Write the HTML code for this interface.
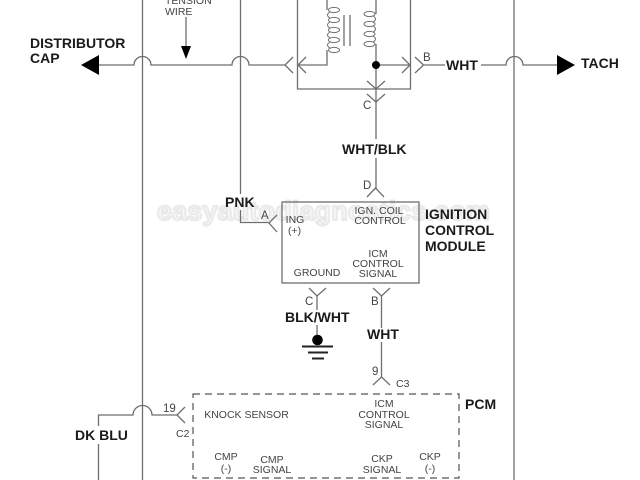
<!DOCTYPE html>
<html><head><meta charset="utf-8"><style>
html,body{margin:0;padding:0;background:#fff}
svg{display:block;filter:blur(.35px)}
text{font-family:"Liberation Sans",sans-serif}
.b{font-weight:bold;font-size:14px;fill:#1a1a1a}
.s{font-size:10.5px;fill:#444}
.l{font-size:11.5px;fill:#444}
.w{fill:none;stroke:#6e6e6e;stroke-width:1.3}
.d{fill:none;stroke:#555;stroke-width:1.2}
</style></head><body>
<svg width="640" height="480" viewBox="0 0 640 480" xmlns="http://www.w3.org/2000/svg">
<rect width="640" height="480" fill="#fff"/>
<text x="157" y="220" font-size="27" font-weight="bold" textLength="333" lengthAdjust="spacingAndGlyphs" fill="#f7f7f7" stroke="#e2e2e2" stroke-width="1.4" style="filter:blur(.6px)">easyautodiagnostics.com</text>
<g class="w">
<path d="M142.5 0V480M514 0V480"/>
<path d="M240.5 0V194M240.5 210V222.5H269"/>
<path d="M297.5 0V89H410.5V0"/>
<path d="M99 65H134A8.5 8.5 0 0 1 151 65H232A8.5 8.5 0 0 1 249 65H285"/>
<path d="M297 65H327V50M327 0V10"/>
<path d="M376 0V14M376 44V102M376 65H410"/>
<path d="M424 65H445M481 65H506A8.5 8.5 0 0 1 523 65H557"/>
<path d="M376 102V139M376 158V188"/>
<path d="M317 296V310M317 325V336"/>
<path d="M381.5 296V328M381.5 342V377"/>
<path d="M98.5 480V444M98.5 426V415H133A9 9 0 0 1 152 415H177"/>
<path d="M186 17V47"/>
<path d="M293 57L285 65L293 73M306 57L298 65L306 73"/>
<path d="M402 57L410 65L402 73M415 57L423.5 65L415 73"/>
<path d="M367 81L376 89L385 81M367 94L376 102L385 94"/>
<path d="M367 197L375.5 188L384 197"/>
<path d="M277 215L269 223L277 232"/>
<path d="M309 288L317 296L326 288M373 288L381.5 296L390 288"/>
<path d="M373 385L381.5 377L390 385"/>
<path d="M185 407L177 415L185 423"/>
<rect x="282" y="202" width="137" height="81"/>
<g stroke-width="1">
<ellipse cx="334" cy="10" rx="5.5" ry="2.6"/><ellipse cx="334" cy="20" rx="5.5" ry="2.6"/><ellipse cx="334" cy="30" rx="5.5" ry="2.6"/><ellipse cx="334" cy="40" rx="5.5" ry="2.6"/><ellipse cx="334" cy="50" rx="5.5" ry="2.6"/>
<path d="M330 12Q325 15 330 18M330 22Q325 25 330 28M330 32Q325 35 330 38M330 42Q325 45 330 48"/>
<ellipse cx="369.5" cy="14" rx="5.5" ry="2.6"/><ellipse cx="369.5" cy="24" rx="5.5" ry="2.6"/><ellipse cx="369.5" cy="34" rx="5.5" ry="2.6"/><ellipse cx="369.5" cy="44" rx="5.5" ry="2.6"/>
<path d="M373 16Q378 19 373 22M373 26Q378 29 373 32M373 36Q378 39 373 42"/>
</g>
<path d="M344 15V46M350 15V46"/>
</g>
<path class="d" stroke-dasharray="7 5" d="M193 394H459V478H193Z"/>
<path d="M81 65L99 55V75Z" fill="#000"/>
<path d="M575 65L557 55V75Z" fill="#000"/>
<path d="M186 59L181 46H191Z" fill="#000"/>
<circle cx="376" cy="65" r="4" fill="#000"/>
<circle cx="317.5" cy="340" r="5.3" fill="#000"/>
<path d="M302 346.5H333" stroke="#222" stroke-width="2"/>
<path d="M308 352.5H328" stroke="#222" stroke-width="2"/>
<path d="M312 358.5H324" stroke="#222" stroke-width="2"/>
<text class="b" x="30" y="48">DISTRIBUTOR</text>
<text class="b" x="30" y="63">CAP</text>
<text class="b" x="581" y="68">TACH</text>
<text class="b" x="446" y="70">WHT</text>
<text class="b" x="342" y="154">WHT/BLK</text>
<text class="b" x="225" y="207">PNK</text>
<text class="b" x="425" y="219">IGNITION</text>
<text class="b" x="425" y="235">CONTROL</text>
<text class="b" x="425" y="251">MODULE</text>
<text class="b" x="285" y="322">BLK/WHT</text>
<text class="b" x="367" y="339">WHT</text>
<text class="b" x="75" y="440">DK BLU</text>
<text class="b" x="465" y="409">PCM</text>
<text class="s" x="165" y="4">TENSION</text>
<text class="s" x="165" y="15">WIRE</text>
<text class="l" x="423" y="61">B</text>
<text class="l" x="363" y="109">C</text>
<text class="l" x="363" y="189">D</text>
<text class="l" x="261" y="219">A</text>
<text class="l" x="305" y="305">C</text>
<text class="l" x="371" y="305">B</text>
<text class="l" x="372" y="375">9</text>
<text class="s" x="396" y="387">C3</text>
<text class="l" x="163" y="412">19</text>
<text class="s" x="176" y="437">C2</text>
<g class="s" text-anchor="middle">
<text x="295" y="223">ING</text>
<text x="294.5" y="234">(+)</text>
<text x="379" y="214">IGN. COIL</text>
<text x="380" y="224">CONTROL</text>
<text x="317" y="276">GROUND</text>
<text x="378" y="257">ICM</text>
<text x="378" y="267">CONTROL</text>
<text x="378" y="277">SIGNAL</text>
<text x="246.5" y="418">KNOCK SENSOR</text>
<text x="226" y="460">CMP</text>
<text x="226" y="472">(-)</text>
<text x="272" y="463">CMP</text>
<text x="272" y="473">SIGNAL</text>
<text x="384" y="407">ICM</text>
<text x="384" y="418">CONTROL</text>
<text x="384" y="428">SIGNAL</text>
<text x="382" y="462">CKP</text>
<text x="382" y="473">SIGNAL</text>
<text x="430" y="460">CKP</text>
<text x="430" y="472">(-)</text>
</g>
</svg>
</body></html>
